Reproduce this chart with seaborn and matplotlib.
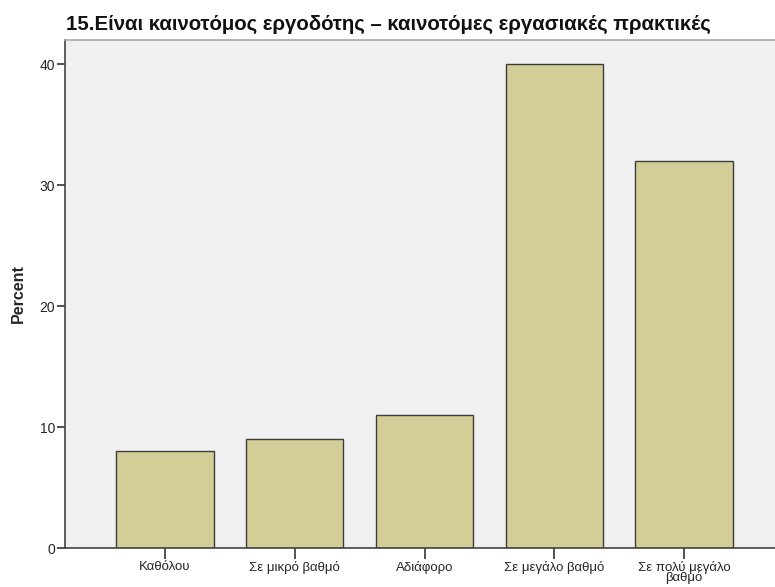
import matplotlib
matplotlib.use("Agg")
import matplotlib.pyplot as plt
import seaborn as sns
import pandas as pd

categories = ["Καθόλου", "Σε μικρό βαθμό", "Αδιάφορο", "Σε μεγάλο βαθμό", "Σε πολύ μεγάλο\nβαθμό"]
percent = [8, 9, 11, 40, 32]
yticks = [0, 10, 20, 30, 40]

df = pd.DataFrame({"cat": categories, "pct": percent})

sns.set_style("white")
plt.rcParams["font.family"] = ["Liberation Sans", "DejaVu Sans"]

fig = plt.figure(figsize=(7.75, 5.87), dpi=100)
ax = fig.add_axes([65/775, 1-548/587, 1-65/775, (548-40)/587])
ax.set_facecolor("#F0F0F0")

sns.barplot(data=df, x="cat", y="pct", ax=ax, color="#D3CE97", width=0.75,
            edgecolor="#3C3C3C", linewidth=1.0, saturation=1)

ax.set_xlim(-0.77, 4.7)
ax.set_ylim(0, 42)
ax.set_yticks(yticks)
ax.set_yticklabels([str(v) for v in yticks], fontsize=10)
ax.tick_params(axis="y", left=True, length=6, width=1.2, color="#333333", pad=1)
ax.tick_params(axis="x", bottom=True, length=8, width=1.2, color="#333333", labelsize=9.5, pad=1)
for lab in ax.get_xticklabels():
    lab.set_linespacing(0.72)

ax.set_xlabel("")
ax.set_ylabel("Percent", fontsize=11.5, fontweight="bold", labelpad=10)

for s in ["left", "bottom"]:
    ax.spines[s].set_color("#444444")
    ax.spines[s].set_linewidth(1.2)
ax.spines["top"].set_color("#A8A8A8")
ax.spines["top"].set_linewidth(1.2)
ax.spines["right"].set_visible(False)

fig.text(66/775, 1-30/587, "15.Είναι καινοτόμος εργοδότης – καινοτόμες εργασιακές πρακτικές",
         fontsize=14.7, fontweight="bold", va="baseline", ha="left", color="#111111")

fig.savefig("out.png", dpi=100)
